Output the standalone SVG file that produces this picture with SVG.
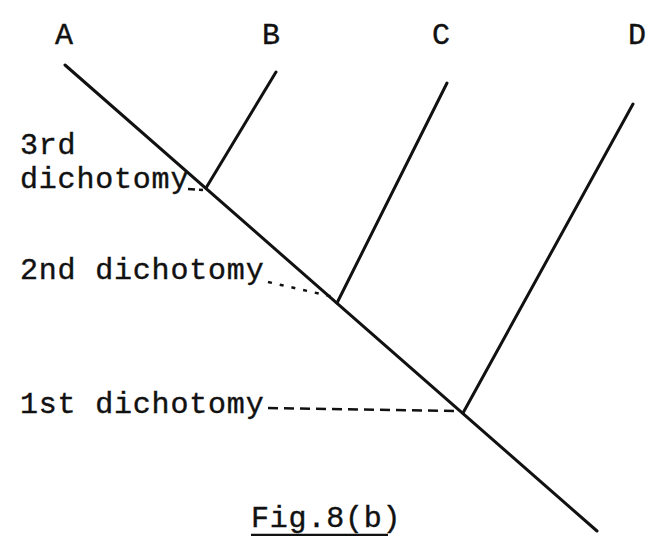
<svg xmlns="http://www.w3.org/2000/svg" width="650" height="536" viewBox="0 0 650 536">
<style>
.t{font-family:"Liberation Mono","DejaVu Sans Mono",monospace;font-size:30px;fill:#111;stroke:#111;stroke-width:0.4;letter-spacing:0.8px}
.ln{stroke:#111;stroke-width:3;fill:none;stroke-linecap:round}
.ld{stroke:#111;stroke-width:2.5;fill:none}
</style>
<rect width="650" height="536" fill="#fff"/>
<g id="labels">
<text class="t" x="55" y="44">A</text>
<text class="t" x="262" y="44">B</text>
<text class="t" x="432" y="44">C</text>
<text class="t" x="628" y="44">D</text>
</g>
<g id="connectors">
<line class="ln" x1="65" y1="65" x2="597" y2="531"/>
<line class="ln" x1="206" y1="188" x2="276" y2="72"/>
<line class="ln" x1="337" y1="303" x2="447" y2="83"/>
<line class="ln" x1="463" y1="413" x2="633" y2="104"/>
<line class="ld" x1="188" y1="189" x2="203" y2="190" stroke-dasharray="7 4"/>
<line class="ld" x1="268" y1="282" x2="334" y2="297" stroke-dasharray="4 8"/>
<line class="ld" x1="268" y1="408" x2="460" y2="411" stroke-dasharray="10 6"/>
</g>
<g id="n3">
<text class="t" x="20" y="154">3rd</text>
<text class="t" x="20" y="188">dichotomy</text>
</g>
<g id="n2"><text class="t" x="20" y="279">2nd dichotomy</text></g>
<g id="n1"><text class="t" x="20" y="413">1st dichotomy</text></g>
<g id="caption">
<text class="t" x="251" y="527" letter-spacing="-1">Fig.8(b)</text>
<line x1="251" y1="535" x2="388" y2="535" stroke="#111" stroke-width="2.5"/>
</g>
</svg>
